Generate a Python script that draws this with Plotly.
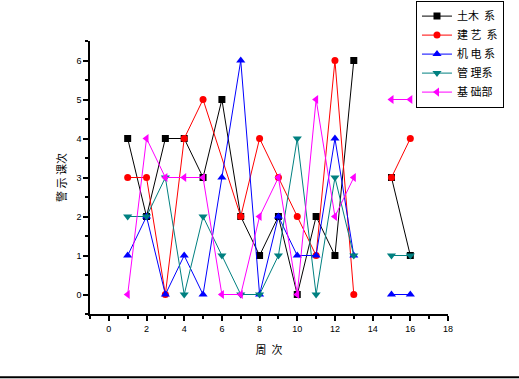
import plotly.graph_objects as go

weeks = [1, 2, 3, 4, 5, 6, 7, 8, 9, 10, 11, 12, 13, None, 15, 16]
weeks_jianyi = [1, 2, 3, 4, 5, 7, 8, 9, 10, 11, 12, 13, None, 15, 16]

tumu = [4, 2, 4, 4, 3, 5, 2, 1, 2, 0, 2, 1, 6, None, 3, 1]
jianyi = [3, 3, 0, 4, 5, 2, 4, 3, 2, 1, 6, 0, None, 3, 4]
jidian = [1, 2, 0, 1, 0, 3, 6, 0, 2, 1, 1, 4, 1, None, 0, 0]
guanli = [2, 2, 3, 0, 2, 1, 0, 0, 1, 4, 0, 3, 1, None, 1, 1]
jichu = [0, 4, 3, 3, 3, 0, 0, 2, 3, 0, 5, 2, 3, None, 5, 5]

names = ["土木  系", "建 艺  系", "机 电 系", "管 理系", "基 础部"]
x_ticks = list(range(0, 19, 2))
y_ticks = list(range(0, 7))

series = [
    (names[0], weeks, tumu, "#000000", "square", 7),
    (names[1], weeks_jianyi, jianyi, "#FF0000", "circle", 7),
    (names[2], weeks, jidian, "#0000FF", "triangle-up", 8),
    (names[3], weeks, guanli, "#008080", "triangle-down", 8),
    (names[4], weeks, jichu, "#FF00FF", "triangle-left", 8),
]

fig = go.Figure()
for name, xs, ys, color, sym, size in series:
    fig.add_trace(go.Scatter(
        x=xs, y=ys, name=name, mode="lines+markers",
        line=dict(color=color, width=1),
        marker=dict(symbol=sym, size=size, color=color, line=dict(width=0)),
        connectgaps=False,
    ))

axis_font = dict(family="Liberation Sans, Arial", size=9, color="#000000")
fig.update_layout(
    width=519, height=379,
    margin=dict(l=90, r=71, t=41, b=64.5, pad=0, autoexpand=False),
    paper_bgcolor="white", plot_bgcolor="white",
    showlegend=True,
    legend=dict(
        x=0.9106, y=1.148, xanchor="left", yanchor="top",
        bordercolor="#000000", borderwidth=1, bgcolor="white",
        font=dict(family="Noto Sans CJK SC", size=11, color="#000000"),
        tracegroupgap=0, itemwidth=30,
    ),
    xaxis=dict(
        range=[-1, 18], tickvals=x_ticks, showgrid=False, zeroline=False,
        showline=True, linecolor="#000000", linewidth=1.5,
        ticks="outside", ticklen=5, tickwidth=1.5, tickcolor="#000000",
        minor=dict(ticks="outside", ticklen=3, tickwidth=1.5, dtick=1, tick0=0, tickcolor="#000000"),
        tickfont=axis_font,
        title=dict(text="周  次", font=dict(family="Noto Sans CJK SC", size=11, color="#000000"), standoff=14),
    ),
    yaxis=dict(
        range=[-0.5, 6.5], tickvals=y_ticks, showgrid=False, zeroline=False,
        showline=True, linecolor="#000000", linewidth=1.5,
        ticks="outside", ticklen=5, tickwidth=1.5, tickcolor="#000000",
        minor=dict(ticks="outside", ticklen=3, tickwidth=1.5, dtick=0.5, tick0=0, tickcolor="#000000"),
        tickfont=axis_font,
        title=dict(text="警 示 课次", font=dict(family="Noto Sans CJK SC", size=11, color="#000000"), standoff=8),
    ),
)

fig.add_shape(type="line", xref="paper", yref="paper",
              x0=-90 / 358, x1=(519 - 90) / 358, y0=-0.232, y1=-0.232,
              line=dict(color="#000000", width=2))

fig.write_html("out.html", config={"displayModeBar": False},
               post_script="document.body.style.margin='0';document.body.style.overflow='hidden';")
